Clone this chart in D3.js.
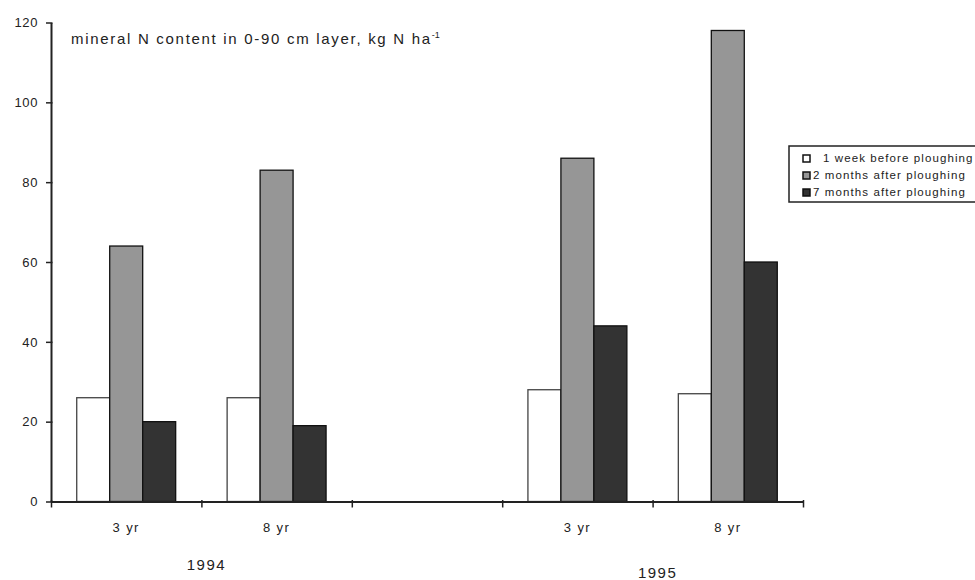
<!DOCTYPE html>
<html>
<head>
<meta charset="utf-8">
<script src="https://cdn.jsdelivr.net/npm/d3@7"></script>
<style>
  body { margin: 0; background: #fff; }
  text { font-family: "Liberation Sans", Arial, sans-serif; fill: #222; }
</style>
</head>
<body>
<div id="chart"></div>
<script>
// categories along the x axis (third slot is the empty gap between years)
const categoryKeys = ["1994-3", "1994-8", "gap", "1995-3", "1995-8"];
const categoryLabels = ["3 yr", "8 yr", "", "3 yr", "8 yr"];
const years = ["1994", "1995"];
const seriesNames = ["1 week before ploughing", "2 months after ploughing", "7 months after ploughing"];

// mineral N, kg N/ha
const weekBefore = [26, 26, null, 28, 27];
const twoMonthsAfter = [64, 83, null, 86, 118];
const sevenMonthsAfter = [20, 19, null, 44, 60];

const yTicks = [0, 20, 40, 60, 80, 100, 120];

const width = 975, height = 580;
const margin = { top: 22.5, right: 172, bottom: 78.5, left: 51 };
const colors = ["#ffffff", "#969696", "#333333"];

const svg = d3.select("#chart").append("svg")
  .attr("width", width)
  .attr("height", height);

const plotW = width - margin.left - margin.right;
const plotH = height - margin.top - margin.bottom;

const g = svg.append("g")
  .attr("transform", `translate(${margin.left},${margin.top})`);

const x0 = d3.scaleBand()
  .domain(categoryKeys)
  .range([0, plotW])
  .padding(0);

const x1 = d3.scaleBand()
  .domain(seriesNames)
  .range([0, x0.bandwidth()])
  .paddingInner(0)
  .paddingOuter(0.78);

const y = d3.scaleLinear()
  .domain([0, 120])
  .range([plotH, 0]);

// build rows for the bars
const seriesValues = [weekBefore, twoMonthsAfter, sevenMonthsAfter];
const rows = [];
categoryKeys.forEach((c, i) => {
  seriesNames.forEach((s, j) => {
    const v = seriesValues[j][i];
    if (v != null) rows.push({ cat: c, series: s, idx: j, value: v });
  });
});

// bars
g.selectAll("rect.bar")
  .data(rows)
  .enter()
  .append("rect")
  .attr("class", "bar")
  .attr("x", d => x0(d.cat) + x1(d.series))
  .attr("y", d => y(d.value))
  .attr("width", x1.bandwidth())
  .attr("height", d => plotH - y(d.value))
  .attr("fill", d => colors[d.idx])
  .attr("stroke", d => d.idx === 0 ? "#444" : "#111")
  .attr("stroke-width", 1.3);

// y axis
const yAxis = g.append("g")
  .call(d3.axisLeft(y).tickValues(yTicks).tickSize(5).tickSizeOuter(0).tickPadding(8));
yAxis.select(".domain").attr("stroke", "#222").attr("stroke-width", 2);
yAxis.selectAll(".tick line").attr("stroke", "#222").attr("stroke-width", 1.5).attr("x2", -5).attr("x1", 1.5);
yAxis.selectAll("text").style("font-size", "13px").style("letter-spacing", "0.6px").attr("fill", "#333");

// x axis: boundary ticks between categories
const bounds = d3.scaleLinear().domain([0, categoryKeys.length]).range([0, plotW]);
const xAxis = g.append("g")
  .attr("transform", `translate(0,${plotH})`)
  .call(d3.axisBottom(bounds).ticks(categoryKeys.length).tickFormat("").tickSize(6).tickSizeOuter(0));
xAxis.select(".domain").attr("stroke", "#222").attr("stroke-width", 2);
xAxis.selectAll(".tick line").attr("stroke", "#222").attr("stroke-width", 1.5).attr("y1", -1.5);

// category labels
const xLabels = g.append("g")
  .attr("transform", `translate(0,${plotH})`)
  .call(d3.axisBottom(x0).tickSize(0).tickPadding(21)
    .tickFormat((d, i) => categoryLabels[i]));
xLabels.select(".domain").remove();
xLabels.selectAll("text").style("font-size", "13px").style("letter-spacing", "1.4px").attr("fill", "#333");

// year labels
g.append("text")
  .attr("x", x0("1994-8") + 5)
  .attr("y", plotH + 68)
  .attr("text-anchor", "middle")
  .style("font-size", "15px")
  .style("letter-spacing", "1.5px")
  .attr("fill", "#333")
  .text(years[0]);

g.append("text")
  .attr("x", x0("1995-8") + 5)
  .attr("y", plotH + 76)
  .attr("text-anchor", "middle")
  .style("font-size", "15px")
  .style("letter-spacing", "1.5px")
  .attr("fill", "#333")
  .text(years[1]);

// title inside plot
const title = g.append("text")
  .attr("x", 20)
  .attr("y", 21)
  .style("font-size", "15px")
  .style("letter-spacing", "1.7px")
  .attr("fill", "#333");
title.append("tspan").text("mineral N content in 0-90 cm layer, kg N ha");
title.append("tspan").attr("dy", -6).style("font-size", "9px").style("letter-spacing", "0px").text("-1");

// legend
const legend = svg.append("g").attr("transform", "translate(789,146)");
legend.append("rect")
  .attr("x", 0).attr("y", 0)
  .attr("width", 200).attr("height", 56)
  .attr("fill", "#fff")
  .attr("stroke", "#222")
  .attr("stroke-width", 1.5);

const items = legend.selectAll("g.item")
  .data(seriesNames)
  .enter()
  .append("g")
  .attr("class", "item")
  .attr("transform", (d, i) => `translate(14,${9 + i * 17})`);

items.append("rect")
  .attr("width", 7).attr("height", 7)
  .attr("fill", (d, i) => colors[i])
  .attr("stroke", "#111")
  .attr("stroke-width", 1.5);

items.append("text")
  .attr("x", (d, i) => i === 0 ? 20 : 10)
  .attr("y", 7)
  .style("font-size", "11.5px")
  .style("letter-spacing", "1.1px")
  .attr("fill", "#333")
  .text(d => d);
</script>
</body>
</html>
